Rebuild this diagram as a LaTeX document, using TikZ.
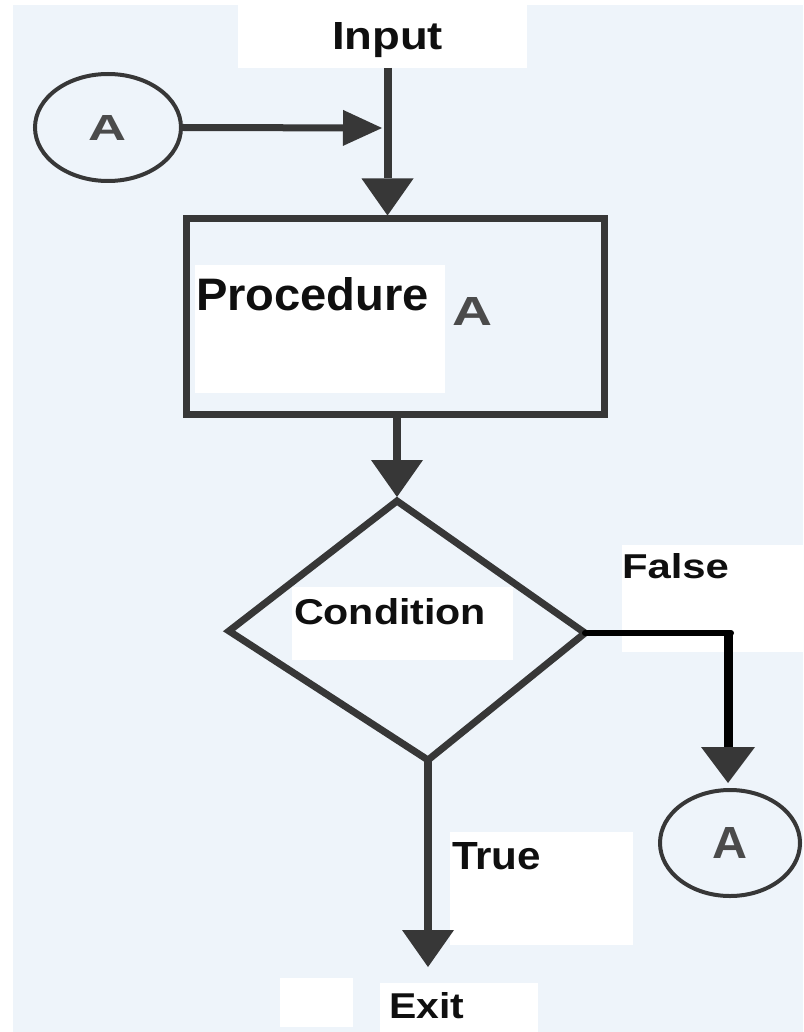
\documentclass[tikz,border=0pt]{standalone}
\usepackage{fontspec}
\setmainfont{Liberation Sans}
\usepackage{graphicx}
\usetikzlibrary{arrows.meta,shapes.geometric}

\definecolor{paper}{RGB}{238,244,250}
\definecolor{ink}{RGB}{55,55,55}
\definecolor{letter}{RGB}{15,15,15}
\definecolor{agrey}{RGB}{75,75,75}

% bold word stretched to a given ink width and cap height (in pt)
\newcommand\fitword[3]{\resizebox{#1pt}{#2pt}{\bfseries #3}}

\begin{document}
\begin{tikzpicture}[x=1pt,y=-1pt,
  patch/.style={fill=white, draw=none, inner sep=0pt, outer sep=0pt, anchor=north west},
  word/.style={anchor=base west, inner sep=0pt, outer sep=0pt, text=letter},
  connector/.style={draw=ink, line width=8pt,
    -{Triangle[width=52pt,length=37pt,line width=0pt]}},
  sideconnector/.style={draw=ink, line width=7pt,
    -{Triangle[width=36pt,length=39pt,line width=0pt]}},
  procbox/.style={draw=ink, line width=7pt, inner sep=0pt},
  decision/.style={draw=ink, line width=7pt, line join=miter},
  connectorcircle/.style={ellipse, draw=ink, line width=4pt, inner sep=0pt, text=agrey}]

% page
\fill[white] (0,0) rectangle (803,1032);
\fill[paper] (13,5) rectangle (803,1032);
\useasboundingbox (0,0) rectangle (803,1032);

% white label patches
\node[patch, minimum width=289pt, minimum height=63pt]  (inpatch)   at (238,5)   {};
\node[patch, minimum width=250pt, minimum height=128pt] (procpatch) at (195,265) {};
\node[patch, minimum width=221pt, minimum height=73pt]  (condpatch) at (292,587) {};
\node[patch, minimum width=181pt, minimum height=107pt] (falsepatch) at (622,545) {};
\node[patch, minimum width=183pt, minimum height=113pt] (truepatch) at (450,832) {};
\node[patch, minimum width=73pt,  minimum height=49pt]  (exitpatchl) at (280,978) {};
\node[patch, minimum width=158pt, minimum height=49pt]  (exitpatchr) at (380,983) {};

% labels
\node[word] (input)     at (332,50)   {\fitword{111}{27}{Input}};
\node[word] (proctext)  at (196,310)  {\fitword{233}{33}{Procedure}};
\node[word, text=agrey] (procA) at (452,325) {\fitword{40}{28}{A}};
\node[word] (condtext)  at (294,624)  {\fitword{192}{26}{Condition}};
\node[word] (falsetext) at (622,578)  {\fitword{107}{25}{False}};
\node[word] (truetext)  at (452,869)  {\fitword{89}{27}{True}};
\node[word] (exittext)  at (389,1018) {\fitword{75}{26}{Exit}};

% process box
\node[procbox, minimum width=418pt, minimum height=195pt] (proc) at (395,316.5) {};

% decision
\coordinate (dtop)   at (397,501);
\coordinate (dleft)  at (229,631);
\coordinate (dright) at (585,633);
\coordinate (dbot)   at (428,760);
\draw[decision] (dtop) -- (dleft) -- (dbot) -- (dright) -- cycle;

% connector circles
\node[connectorcircle, minimum width=146pt, minimum height=107pt] (cA)  at (108,127.5) {\fitword{38}{25}{A}};
\node[connectorcircle, minimum width=140pt, minimum height=106pt] (cA2) at (730,843)   {\fitword{35}{31}{A}};

% flow
\coordinate (join)    at (382,128);
\coordinate (trueend) at (428,967);
\coordinate (fcorner) at (728,633);

\draw[connector] (input |- inpatch.south) -- (input |- proc.north);
\draw[sideconnector] (cA.east) -- (join);
\draw[connector] (proc.south -| dtop) -- ([yshift=4pt]dtop);
\draw[connector] (dbot) -- (trueend);
\draw[black, line width=6pt, line cap=round] (dright) -- ([xshift=3pt]fcorner);
\draw[black, line width=9pt,
  -{Triangle[width=54pt,length=36pt,line width=0pt,color=ink]}]
  (fcorner) -- ([yshift=5pt]cA2.north -| fcorner);
\end{tikzpicture}
\end{document}
